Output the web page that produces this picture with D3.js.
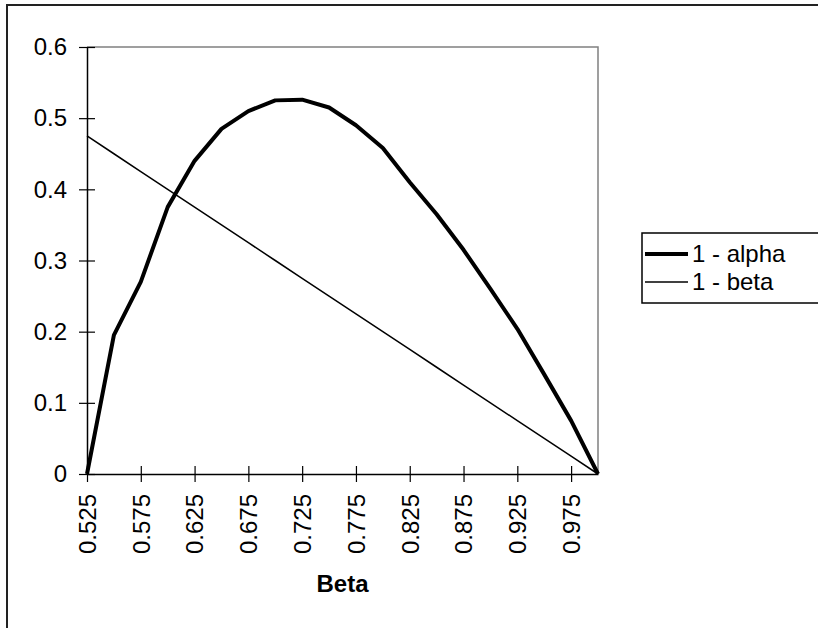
<!DOCTYPE html>
<html>
<head>
<meta charset="utf-8">
<script src="https://cdn.jsdelivr.net/npm/d3@7"></script>
<style>
  body { margin: 0; background: #fff; }
  text { font-family: Arial, "Liberation Sans", sans-serif; }
</style>
</head>
<body>
<div id="chart-area"></div>
<script>

// SVG size
var width = 818,
	height = 628;

// Beta categories (x axis)
var betaValues = ["0.525", "0.55", "0.575", "0.6", "0.625", "0.65", "0.675", "0.7", "0.725", "0.75",
	"0.775", "0.8", "0.825", "0.85", "0.875", "0.9", "0.925", "0.95", "0.975", "1"];

// series
var oneMinusAlpha = [0, 0.195, 0.27, 0.375, 0.44, 0.485, 0.51, 0.525, 0.526, 0.515,
	0.49, 0.458, 0.41, 0.365, 0.315, 0.26, 0.204, 0.14, 0.075, 0];
var oneMinusBeta = [0.475, 0.45, 0.425, 0.4, 0.375, 0.35, 0.325, 0.3, 0.275, 0.25,
	0.225, 0.2, 0.175, 0.15, 0.125, 0.1, 0.075, 0.05, 0.025, 0];

// only every other category gets a label
var xTickLabels = ["0.525", "0.575", "0.625", "0.675", "0.725", "0.775", "0.825", "0.875", "0.925", "0.975"];
var yTicks = [0, 0.1, 0.2, 0.3, 0.4, 0.5, 0.6];

var seriesNames = ["1 - alpha", "1 - beta"];

var plot = {left: 87, right: 598, top: 47, bottom: 474};

var svg = d3.select("#chart-area")
	.append("svg")
	.attr("width", width)
	.attr("height", height);

// outer chart border (runs off the right and bottom)
svg.append("rect")
	.attr("x", 7).attr("y", 5)
	.attr("width", 900).attr("height", 700)
	.attr("fill", "none")
	.attr("stroke", "#222")
	.attr("stroke-width", 2);

var x = d3.scalePoint()
	.domain(betaValues)
	.range([plot.left, plot.right]);

var y = d3.scaleLinear()
	.domain([0, 0.6])
	.range([plot.bottom, plot.top]);

// grey top / right plot border
svg.append("path")
	.attr("d", "M" + plot.left + "," + plot.top + "H" + plot.right + "V" + plot.bottom)
	.attr("fill", "none")
	.attr("stroke", "#808080")
	.attr("stroke-width", 1.5);

// y axis
var yAxis = d3.axisLeft(y)
	.tickValues(yTicks)
	.tickSize(0)
	.tickFormat(function (d) { return d === 0 ? "0" : d3.format(".1f")(d); });

var yG = svg.append("g")
	.attr("transform", "translate(" + plot.left + ",0)")
	.call(yAxis);
yG.select(".domain").attr("stroke", "#000").attr("stroke-width", 1.5);
yG.selectAll(".tick text")
	.attr("x", -20)
	.attr("font-size", 24)
	.attr("fill", "#000");
yG.selectAll(".tick").append("line")
	.attr("x1", -8).attr("x2", 8)
	.attr("stroke", "#000").attr("stroke-width", 1.2);

// x axis
var xAxis = d3.axisBottom(x)
	.tickValues(betaValues)
	.tickSize(0)
	.tickFormat(function (d) { return xTickLabels.includes(d) ? d : ""; });

var xG = svg.append("g")
	.attr("transform", "translate(0," + plot.bottom + ")")
	.call(xAxis);
xG.select(".domain").attr("stroke", "#000").attr("stroke-width", 1.5);
xG.selectAll(".tick text")
	.attr("font-size", 24)
	.attr("fill", "#000")
	.attr("transform", "rotate(-90)")
	.attr("x", -20)
	.attr("y", 0)
	.attr("dy", "0.35em")
	.attr("text-anchor", "end");
xG.selectAll(".tick")
	.filter(function (d) { return xTickLabels.includes(d); })
	.append("line")
	.attr("y1", -8).attr("y2", 8)
	.attr("stroke", "#000").attr("stroke-width", 1.2);

svg.append("text")
	.attr("x", (plot.left + plot.right) / 2)
	.attr("y", 592)
	.attr("text-anchor", "middle")
	.attr("font-size", 24)
	.attr("font-weight", "bold")
	.text("Beta");

// lines
var line = d3.line()
	.x(function (d, i) { return x(betaValues[i]); })
	.y(function (d) { return y(d); });

svg.append("path")
	.datum(oneMinusBeta)
	.attr("d", line)
	.attr("fill", "none")
	.attr("stroke", "#000")
	.attr("stroke-width", 1.5);

svg.append("path")
	.datum(oneMinusAlpha)
	.attr("d", line)
	.attr("fill", "none")
	.attr("stroke", "#000")
	.attr("stroke-width", 4)
	.attr("stroke-linejoin", "round");

// legend
var legend = svg.append("g").attr("transform", "translate(642,233)");
legend.append("rect")
	.attr("width", 200).attr("height", 70)
	.attr("fill", "#fff")
	.attr("stroke", "#000")
	.attr("stroke-width", 1.5);

var legendItems = legend.selectAll(".item")
	.data(seriesNames)
	.enter().append("g")
	.attr("transform", function (d, i) { return "translate(0," + (21 + i * 28) + ")"; });

legendItems.append("line")
	.attr("x1", 3).attr("x2", 46)
	.attr("stroke", "#000")
	.attr("stroke-width", function (d, i) { return i === 0 ? 4 : 1.5; });

legendItems.append("text")
	.attr("x", 50)
	.attr("dy", "0.35em")
	.attr("font-size", 24)
	.text(function (d) { return d; });

</script>
</body>
</html>
